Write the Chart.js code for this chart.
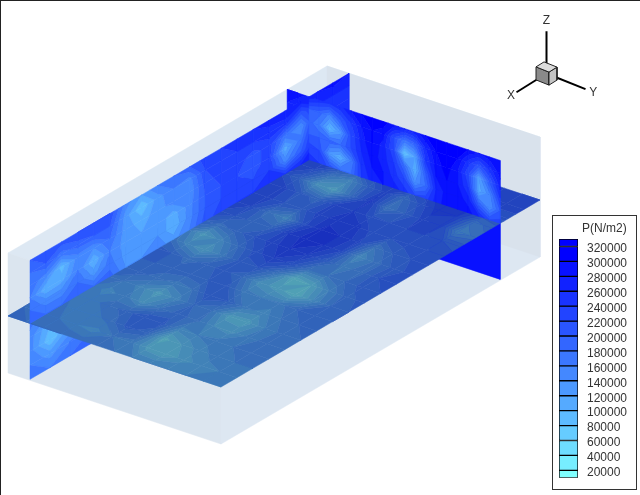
<!DOCTYPE html>
<html><head><meta charset="utf-8">
<style>
html,body{margin:0;padding:0;background:#fff;overflow:hidden}
#stage{position:relative;width:640px;height:495px}
#main{position:absolute;left:0;top:0}
#frame{position:absolute;left:0;top:0;width:640px;height:495px;box-sizing:border-box;border-top:1px solid #222;border-left:1px solid #222;pointer-events:none}
#legendBox{position:absolute;left:552px;top:215px;width:85px;height:275px;box-sizing:border-box;border:1px solid #333;background:#fff}
#legend{position:absolute;left:-1px;top:-1px}
#legendTitle{position:absolute;left:29px;top:5px;font:12px "Liberation Sans";color:#333;line-height:14px;white-space:nowrap}
</style>
<script src="https://cdn.jsdelivr.net/npm/chart.js"></script>
</head><body>
<div id="stage">
<canvas id="main" width="640" height="495"></canvas>
<div id="frame"></div>
<div id="legendBox"><canvas id="legend" width="85" height="279"></canvas><div id="legendTitle"></div></div>
</div>
<script>
// ---- legend content ----
const legendTitle = 'P(N/m2)';
const contourLevels = [320000,300000,280000,260000,240000,220000,200000,180000,160000,140000,120000,100000,80000,60000,40000,20000];
const levelColors = ['#0000ff','#0811ff','#1122ff','#1933ff','#2244ff','#2a55ff','#3366ff','#3b77ff','#4488ff','#4c99ff','#55aaff','#5dbbff','#66ccff','#6eddff','#77eeff','#7fffff'];
const floorColors = ['#1830be','#1d3abe','#2244be','#274fbe','#2c59bc','#3163ba','#376db9','#3b77b8','#4182b8','#468cb7','#4b96b6','#50a0b5','#55aab4','#5ab5b4','#60c0b4','#66cab4'];

// ---- model extents (box and slices) ----
const boxU = [0, 12], boxV = [0, 20], boxZ = [-57, 63];
const floorU = [0,1,2,3,4,5,6,7,8,9,10,11,12];
const floorV = [0,1,2,3,4,5,6,7,8,9,10,11,12,13,14,15,16,17,18,19,20];
const wallZ = [63,50.4,37.8,25.2,12.6,0];
const wallAU = 1.24;
const wallBV = 17.5;
const wallBU = [0,0.62,1.24,1.8,2.4,3,3.6,4.2,4.8,5.4,6,6.6,7.2,7.8,8.4,9,9.6,10.2,10.8,11.4,12];
const lowerAV = [0,1.25,2.5,3.75,5];
const lowerAZ = [0,-14,-28,-42,-56];
const lowerBU = [8,12];
const lowerBZ = [0,-56];

// ---- pressure, in units of 10000 N/m2 ----
const floorP = [
[20,20,20,20,20,21,21,22,23,23,24,25,26,27,27,28,28,28,28,28,28],
[20,19,19,18,18,20,21,22,23,20,19,23,26,27,28,28,26,27,28,28,28],
[20,18,17,17,15,18,21,22,22,15,11,19,24,26,27,27,22,26,28,28,28],
[20,16,17,19,17,15,19,21,19,12,15,21,21,19,24,23,13,19,26,28,28],
[19,15,19,21,13,11,17,21,21,17,20,24,21,15,23,21,11,15,24,27,28],
[19,18,23,24,18,15,18,22,23,23,25,27,28,25,27,27,20,22,27,28,28],
[18,17,21,23,21,20,24,23,20,24,28,30,31,31,29,28,29,27,28,29,28],
[16,11, 9,15,19,18,22,17,13,18,25,28,30,30,29,25,18,20,27,28,28],
[16,10,12,16,14,11,17,16,11, 8,18,23,26,27,25,24,22,25,28,28,28],
[16,13,15,17,13,11,15,17, 8,10,18,17,14,18,24,26,27,29,29,28,28],
[16,15,17,18,17,16,18,20,14,16,20,19,19,22,25,26,27,28,29,28,27],
[16,16,18,19,19,19,20,21,20,21,23,24,23,24,25,24,16,19,25,27,26],
[16,17,18,19,19,20,21,22,22,23,24,25,25,25,25,23,19,21,25,27,26]];
const wallAP = [
[20,21,21,22,22,22,15,12,16,18,20,23,24,25,26,27,28,27,28,29,28],
[18,20,17,19,20,20,13, 8,13,16,15,22,23,24,24,25,25,20,26,26,26],
[17,15, 9,15,14,18,13,11,13,15,14,21,23,23,21,23,17,14,25,24,25],
[16,10,11,16,10,16,13,12,13,11,15,20,22,22,21,23,11,17,27,26,25],
[18,15,15,18,13,17,13,13,14,10,15,20,22,23,22,24,15,20,27,27,26],
[18,18,18,19,18,19,14,14,15,13,16,21,23,24,24,25,24,26,27,28,28]];
const wallBP = [
[30,30,27,25,24,25,28,30,31,31,29,27,27,30,31,31,31,30,28,29,30],
[28,25,20,19,15,20,24,28,30,29,22,17,19,26,30,31,30,25,21,25,29],
[26,21,19,16, 9,13,22,27,30,27,22, 8,12,24,29,31,28,22,12,20,27],
[24,22,20,20,19,18,22,26,29,27,24,18,10,20,28,30,28,24,11,15,24],
[25,23,23,22,13,10,16,25,28,28,25,22,14,18,26,29,29,27,19,14,20],
[27,26,25,24,21,18,18,24,27,28,27,25,22,23,27,29,30,29,26,22,23]];
const lowerAP = [
[17,14,15,18,19],
[15,10,13,17,19],
[15, 8,13,17,19],
[16,13,16,18,19],
[17,16,18,19,20]];
const lowerBP = [[28.5,28.5],[28.5,28.5]];

// ---- orientation triad ----
const triadAxes = [['X',7.5,0,0],['Y',0,6,0],['Z',0,0,6.5]];
const triadLabels = [['X',8.9,0,0],['Y',0,7.2,0],['Z',0,0,8.2]];
const axisInk = '#000';

// ---- projection (axonometric, model → chart coordinates) ----
function project(u,v,z){ return {x:8+17.75*u+15.95*v, y:316+5.92*u-9.35*v-z}; }
function projectTriad(a,b,c){ return {x:546.5-4*a+6.5*b, y:73.5+2.5*a+2.6*b-6.5*c}; }

const layers = [];
function polygon(pts,color,edge,w){
  const closed = pts.concat([pts[0]]).map(p=>({x:p.x,y:p.y}));
  layers.push({data:closed,showLine:true,pointRadius:0,tension:0,
    borderWidth:w===undefined?0.5:w,borderColor:edge||color,backgroundColor:color,fill:'shape'});
}
function line(pts,color,w){
  layers.push({data:pts,showLine:true,pointRadius:0,tension:0,borderWidth:w,borderColor:color,fill:false,borderCapStyle:'butt'});
}
function clip(poly,lim,keepAbove){
  const out=[];
  for(let i=0;i<poly.length;i++){
    const a=poly[i],b=poly[(i+1)%poly.length];
    const ina=keepAbove?a.p>=lim:a.p<=lim, inb=keepAbove?b.p>=lim:b.p<=lim;
    if(ina) out.push(a);
    if(ina!==inb){
      const t=(lim-a.p)/(b.p-a.p);
      out.push({x:a.x+t*(b.x-a.x),y:a.y+t*(b.y-a.y),p:lim});
    }
  }
  return out;
}
const bandEdges = contourLevels.map(l=>l/10000).reverse(); // 2,4,...,32 ascending
function contourCell(q,palette){
  const ps=q.map(c=>c.p), mn=Math.min(...ps), mx=Math.max(...ps);
  for(let i=0;i<16;i++){
    const lo=i===0?-Infinity:bandEdges[i-1];
    const hi=i===15?Infinity:bandEdges[i];
    if(mx<lo||mn>hi) continue;
    let poly=q;
    if(lo!==-Infinity) poly=clip(poly,lo,true);
    if(hi!==Infinity&&poly.length) poly=clip(poly,hi,false);
    if(poly.length>=3) polygon(poly,palette[15-i]);
  }
}
function contourGrid(values,pos,palette,c0,c1){
  const rows=values.length, cols=values[0].length;
  const from=c0===undefined?0:c0, to=c1===undefined?cols-1:c1;
  for(let r=0;r<rows-1;r++) for(let c=from;c<to;c++){
    const corner=(rr,cc)=>Object.assign(pos(rr,cc),{p:values[rr][cc]});
    contourCell([corner(r,c),corner(r,c+1),corner(r+1,c+1),corner(r+1,c)],palette);
  }
}

// box faces
const [u0,u1]=boxU,[v0,v1]=boxV,[z0,z1]=boxZ;
polygon([project(u0,v0,z1),project(u0,v1,z1),project(u1,v1,z1),project(u1,v0,z1)],'#dde8f3');
polygon([project(u0,v0,z1),project(u1,v0,z1),project(u1,v0,z0),project(u0,v0,z0)],'#dbe5ef');
polygon([project(u1,v0,z1),project(u1,v1,z1),project(u1,v1,z0),project(u1,v0,z0)],'#dde7f2');
polygon([project(u0,v1,z1),project(u1,v1,z1),project(u1,v1,z0),project(u0,v1,z0)],'#d9e2ec');

// lower parts of the slices (seen below the floor)
contourGrid(lowerAP,(r,c)=>project(wallAU,lowerAV[c],lowerAZ[r]),levelColors);
contourGrid(lowerBP,(r,c)=>project(lowerBU[c],wallBV,lowerBZ[r]),levelColors);
// horizontal slice
contourGrid(floorP,(r,c)=>project(floorU[r],floorV[c],0),floorColors);
// upper parts of the slices
const wallBPos=(r,c)=>project(wallBU[c],wallBV,wallZ[r]);
contourGrid(wallBP,wallBPos,levelColors,0,2);
contourGrid(wallAP,(r,c)=>project(wallAU,floorV[c],wallZ[r]),levelColors);
contourGrid(wallBP,wallBPos,levelColors,2,20);

// triad
triadAxes.forEach(t=>line([projectTriad(0,0,0),projectTriad(t[1],t[2],t[3])],axisInk,2));
const T=projectTriad;
polygon([T(1,-1,1),T(1,1,1),T(1,1,-1),T(1,-1,-1)],'#8a8a8a','#222',1);
polygon([T(1,1,1),T(-1,1,1),T(-1,1,-1),T(1,1,-1)],'#c4c4c4','#222',1);
polygon([T(1,-1,1),T(-1,-1,1),T(-1,1,1),T(1,1,1)],'#dcdcdc','#222',1);

const triadText = {
  id:'triadText',
  afterDraw(chart){
    const {ctx,scales}=chart;
    ctx.save();
    ctx.font='12px "Liberation Sans"';ctx.fillStyle='#333';ctx.textAlign='center';ctx.textBaseline='middle';
    triadLabels.forEach(l=>{
      const p=projectTriad(l[1],l[2],l[3]);
      ctx.fillText(l[0],scales.x.getPixelForValue(p.x),scales.y.getPixelForValue(p.y));
    });
    ctx.restore();
  }
};

new Chart(document.getElementById('main'),{
  type:'scatter',
  data:{datasets:layers.reverse()},
  plugins:[triadText],
  options:{
    responsive:false,animation:false,events:[],
    layout:{padding:0},
    plugins:{legend:{display:false},tooltip:{enabled:false},title:{display:false}},
    scales:{
      x:{type:'linear',min:0,max:640,display:false},
      y:{type:'linear',min:0,max:495,reverse:true,display:false}
    }
  }
});

// legend
document.getElementById('legendTitle').textContent = legendTitle;
const legendBands = [[320000,330000]].concat(contourLevels.map((l,i)=>[i<15?contourLevels[i+1]:10000,l]));
const legendColors = [levelColors[0]].concat(levelColors.slice(0,16));
new Chart(document.getElementById('legend'),{
  type:'bar',
  data:{labels:[''],datasets:legendBands.map((b,i)=>({
    data:[b],backgroundColor:legendColors[i],borderColor:'#000',borderWidth:1,borderSkipped:false,
    categoryPercentage:1,barPercentage:1}))},
  options:{
    responsive:false,animation:false,events:[],
    layout:{padding:{left:7,right:0,top:24,bottom:3}},
    plugins:{legend:{display:false},tooltip:{enabled:false},title:{display:false}},
    scales:{
      x:{stacked:true,display:false},
      y:{type:'linear',position:'right',min:10000,max:330000,
        border:{display:false},grid:{display:false,drawTicks:false},
        afterFit(s){s.width=59;},
        afterBuildTicks(s){s.ticks=contourLevels.map(v=>({value:v}));},
        ticks:{autoSkip:false,padding:9,labelOffset:2.5,color:'#333',
          font:{family:'Liberation Sans',size:12},callback:v=>String(v)}}
    }
  }
});
</script>
</body></html>
